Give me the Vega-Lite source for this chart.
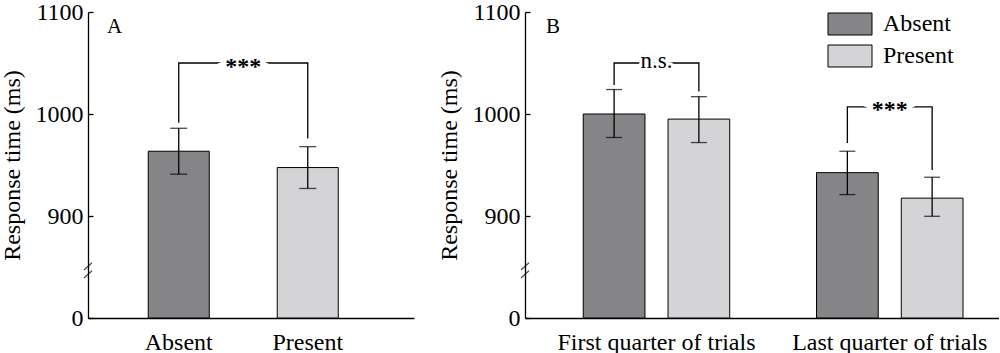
{
  "$schema": "https://vega.github.io/schema/vega-lite/v6.json",
  "padding": {"left": 0, "top": 0, "right": 0, "bottom": 0},
  "background": "white",
  "config": {
    "font": "Liberation Serif",
    "view": {"stroke": null},
    "axis": {"labelFont": "Liberation Serif", "titleFont": "Liberation Serif", "labelFontSize": 24, "titleFontSize": 24, "titleFontWeight": "normal", "labelColor": "black", "titleColor": "black", "domainColor": "black", "tickColor": "black", "domainWidth": 1.3, "tickWidth": 1.3, "grid": false, "labelLimit": 400}
  },
  "datasets": {
    "a": [
      {"cond": "Absent", "rt": 963.5, "lo": 941, "hi": 986},
      {"cond": "Present", "rt": 947.5, "lo": 927, "hi": 968}
    ],
    "abr": [
      {"cond": "Absent", "y": 991.5, "o": 1},
      {"cond": "Absent", "y": 1050, "o": 2},
      {"cond": "Present", "y": 1050, "o": 3},
      {"cond": "Present", "y": 976, "o": 4}
    ],
    "b": [
      {"phase": "First quarter of trials", "cond": "Absent", "rt": 1000, "lo": 977, "hi": 1024},
      {"phase": "First quarter of trials", "cond": "Present", "rt": 995, "lo": 972, "hi": 1017},
      {"phase": "Last quarter of trials", "cond": "Absent", "rt": 942.5, "lo": 921, "hi": 963.5},
      {"phase": "Last quarter of trials", "cond": "Present", "rt": 917.5, "lo": 897.5, "hi": 938}
    ],
    "bbr": [
      {"br": "ns", "phase": "First quarter of trials", "cond": "Absent", "y": 1028.5, "o": 1},
      {"br": "ns", "phase": "First quarter of trials", "cond": "Absent", "y": 1050, "o": 2},
      {"br": "ns", "phase": "First quarter of trials", "cond": "Present", "y": 1050, "o": 3},
      {"br": "ns", "phase": "First quarter of trials", "cond": "Present", "y": 1022, "o": 4},
      {"br": "sig", "phase": "Last quarter of trials", "cond": "Absent", "y": 971.5, "o": 1},
      {"br": "sig", "phase": "Last quarter of trials", "cond": "Absent", "y": 1007, "o": 2},
      {"br": "sig", "phase": "Last quarter of trials", "cond": "Present", "y": 1007, "o": 3},
      {"br": "sig", "phase": "Last quarter of trials", "cond": "Present", "y": 945, "o": 4}
    ]
  },
  "spacing": 23,
  "resolve": {"scale": {"color": "independent"}, "legend": {"color": "independent"}},
  "hconcat": [
    {
      "width": 326,
      "height": 306,
      "encoding": {
        "x": {"field": "cond", "type": "nominal", "sort": ["Absent", "Present"], "title": null,
          "scale": {"paddingInner": 0.527, "paddingOuter": 0.527, "align": 0.443},
          "axis": {"ticks": false, "labelAngle": 0, "labelPadding": 12}}
      },
      "layer": [
        {
          "data": {"name": "a"},
          "mark": {"type": "bar", "stroke": "black", "strokeWidth": 1},
          "encoding": {
            "y": {"field": "rt", "type": "quantitative", "title": "Response time (ms)",
              "scale": {"domain": [0, 900, 1100], "range": [306, 204, 0], "nice": false, "zero": false},
              "axis": {"values": [0, 900, 1000, 1100], "format": "d", "tickSize": -5, "labelPadding": 10, "titlePadding": 11}},
            "color": {"field": "cond", "type": "nominal", "scale": {"domain": ["Absent", "Present"], "range": ["#858486", "#d4d4d6"]}, "legend": null}
          }
        },
        {
          "data": {"name": "a"},
          "mark": {"type": "rule", "color": "black", "strokeWidth": 1.3},
          "encoding": {"y": {"field": "lo", "type": "quantitative", "title": "Response time (ms)"}, "y2": {"field": "hi"}}
        },
        {
          "data": {"name": "a"},
          "mark": {"type": "tick", "color": "black", "thickness": 1.3, "size": 17},
          "encoding": {"y": {"field": "lo", "type": "quantitative", "title": "Response time (ms)"}}
        },
        {
          "data": {"name": "a"},
          "mark": {"type": "tick", "color": "black", "thickness": 1.3, "size": 17},
          "encoding": {"y": {"field": "hi", "type": "quantitative", "title": "Response time (ms)"}}
        },
        {
          "data": {"name": "abr"},
          "mark": {"type": "line", "color": "black", "strokeWidth": 1.3},
          "encoding": {"y": {"field": "y", "type": "quantitative", "title": "Response time (ms)"}, "order": {"field": "o"}}
        },
        {
          "data": {"values": [{"cond": "Absent", "y": 1050, "label": "***"}]},
          "mark": {"type": "text", "dx": 64.5, "dy": 10.5, "baseline": "alphabetic", "fontSize": 24, "fontWeight": "bold", "fill": "white", "stroke": "white", "strokeWidth": 8},
          "encoding": {"y": {"field": "y", "type": "quantitative", "title": "Response time (ms)"}, "text": {"field": "label"}}
        },
        {
          "data": {"values": [{"cond": "Absent", "y": 1050, "label": "***"}]},
          "mark": {"type": "text", "dx": 64.5, "dy": 10.5, "baseline": "alphabetic", "fontSize": 24, "fontWeight": "bold", "color": "black"},
          "encoding": {"y": {"field": "y", "type": "quantitative", "title": "Response time (ms)"}, "text": {"field": "label"}}
        },
        {
          "data": {"values": [{"panel": "A", "y": 1079}]},
          "mark": {"type": "text", "align": "left", "baseline": "alphabetic", "fontSize": 21, "color": "black"},
          "encoding": {"x": {"value": 19}, "y": {"field": "y", "type": "quantitative", "title": "Response time (ms)"}, "text": {"field": "panel"}}
        },
        {
          "data": {"values": [{"y": 420}]},
          "mark": {"type": "point", "shape": "M-1,-0.1L1,-1.9M-1,1.9L1,0.1", "filled": false, "stroke": "black", "strokeWidth": 1.2, "size": 64},
          "encoding": {"x": {"value": 0}, "y": {"field": "y", "type": "quantitative", "title": "Response time (ms)"}}
        }
      ]
    },
    {
      "width": 474,
      "height": 306,
      "encoding": {
        "x": {"field": "phase", "type": "nominal", "sort": ["First quarter of trials", "Last quarter of trials"], "title": null,
          "scale": {"paddingInner": 0.372, "paddingOuter": 0.202, "align": 0.618},
          "axis": {"ticks": false, "labelAngle": 0, "labelPadding": 12}}
      },
      "layer": [
        {
          "data": {"name": "b"},
          "mark": {"type": "bar", "stroke": "black", "strokeWidth": 1},
          "encoding": {
            "xOffset": {"field": "cond", "type": "nominal", "sort": ["Absent", "Present"], "scale": {"paddingInner": 0.272, "paddingOuter": 0}},
            "y": {"field": "rt", "type": "quantitative", "title": "Response time (ms)",
              "scale": {"domain": [0, 900, 1100], "range": [306, 204, 0], "nice": false, "zero": false},
              "axis": {"values": [0, 900, 1000, 1100], "format": "d", "tickSize": -5, "labelPadding": 10, "titlePadding": 11}},
            "color": {"field": "cond", "type": "nominal", "scale": {"domain": ["Absent", "Present"], "range": ["#858486", "#d4d4d6"]},
              "legend": {"orient": "none", "legendX": 313, "legendY": 0, "title": null, "symbolType": "M-2,-1H2V1H-2Z", "symbolSize": 484, "symbolStrokeColor": "black", "symbolStrokeWidth": 1, "labelFontSize": 24, "labelFont": "Liberation Serif", "labelColor": "black", "labelOffset": 21, "rowPadding": 6, "padding": 0}}
          }
        },
        {
          "data": {"name": "b"},
          "mark": {"type": "rule", "color": "black", "strokeWidth": 1.3},
          "encoding": {
            "xOffset": {"field": "cond", "type": "nominal", "sort": ["Absent", "Present"], "scale": {"paddingInner": 0.272, "paddingOuter": 0}},
            "y": {"field": "lo", "type": "quantitative", "title": "Response time (ms)"}, "y2": {"field": "hi"}}
        },
        {
          "data": {"name": "b"},
          "mark": {"type": "tick", "color": "black", "thickness": 1.3, "size": 16},
          "encoding": {
            "xOffset": {"field": "cond", "type": "nominal", "sort": ["Absent", "Present"], "scale": {"paddingInner": 0.272, "paddingOuter": 0}},
            "y": {"field": "lo", "type": "quantitative", "title": "Response time (ms)"}}
        },
        {
          "data": {"name": "b"},
          "mark": {"type": "tick", "color": "black", "thickness": 1.3, "size": 16},
          "encoding": {
            "xOffset": {"field": "cond", "type": "nominal", "sort": ["Absent", "Present"], "scale": {"paddingInner": 0.272, "paddingOuter": 0}},
            "y": {"field": "hi", "type": "quantitative", "title": "Response time (ms)"}}
        },
        {
          "data": {"name": "bbr"},
          "mark": {"type": "line", "color": "black", "strokeWidth": 1.3},
          "encoding": {
            "xOffset": {"field": "cond", "type": "nominal", "sort": ["Absent", "Present"], "scale": {"paddingInner": 0.272, "paddingOuter": 0}},
            "y": {"field": "y", "type": "quantitative", "title": "Response time (ms)"}, "order": {"field": "o"}, "detail": {"field": "br"}}
        },
        {
          "data": {"values": [{"phase": "First quarter of trials", "y": 1050, "label": "n.s."}]},
          "mark": {"type": "text", "dy": 4.5, "baseline": "alphabetic", "fontSize": 23, "fill": "white", "stroke": "white", "strokeWidth": 6},
          "encoding": {"y": {"field": "y", "type": "quantitative", "title": "Response time (ms)"}, "text": {"field": "label"}}
        },
        {
          "data": {"values": [{"phase": "First quarter of trials", "y": 1050, "label": "n.s."}]},
          "mark": {"type": "text", "dy": 4.5, "baseline": "alphabetic", "fontSize": 23, "color": "black"},
          "encoding": {"y": {"field": "y", "type": "quantitative", "title": "Response time (ms)"}, "text": {"field": "label"}}
        },
        {
          "data": {"values": [{"phase": "Last quarter of trials", "y": 1007, "label": "***"}]},
          "mark": {"type": "text", "dy": 10.5, "baseline": "alphabetic", "fontSize": 24, "fontWeight": "bold", "fill": "white", "stroke": "white", "strokeWidth": 8},
          "encoding": {"y": {"field": "y", "type": "quantitative", "title": "Response time (ms)"}, "text": {"field": "label"}}
        },
        {
          "data": {"values": [{"phase": "Last quarter of trials", "y": 1007, "label": "***"}]},
          "mark": {"type": "text", "dy": 10.5, "baseline": "alphabetic", "fontSize": 24, "fontWeight": "bold", "color": "black"},
          "encoding": {"y": {"field": "y", "type": "quantitative", "title": "Response time (ms)"}, "text": {"field": "label"}}
        },
        {
          "data": {"values": [{"panel": "B", "y": 1079}]},
          "mark": {"type": "text", "align": "left", "baseline": "alphabetic", "fontSize": 21, "color": "black"},
          "encoding": {"x": {"value": 21}, "y": {"field": "y", "type": "quantitative", "title": "Response time (ms)"}, "text": {"field": "panel"}}
        },
        {
          "data": {"values": [{"y": 420}]},
          "mark": {"type": "point", "shape": "M-1,-0.1L1,-1.9M-1,1.9L1,0.1", "filled": false, "stroke": "black", "strokeWidth": 1.2, "size": 64},
          "encoding": {"x": {"value": 0}, "y": {"field": "y", "type": "quantitative", "title": "Response time (ms)"}}
        }
      ]
    }
  ]
}
